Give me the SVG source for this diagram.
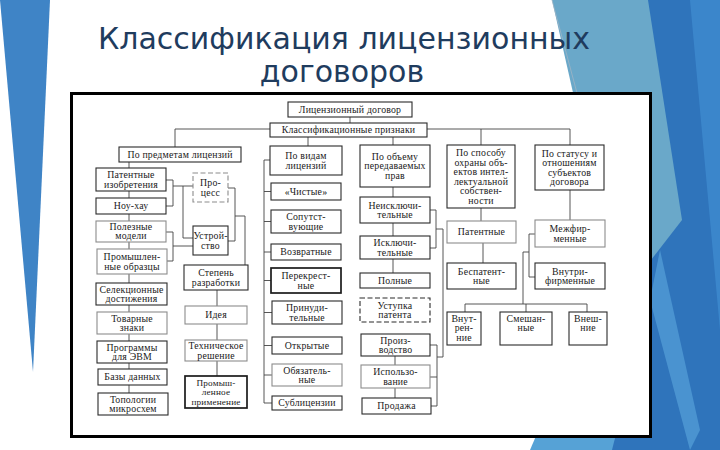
<svg xmlns="http://www.w3.org/2000/svg" width="720" height="450" viewBox="0 0 720 450">
<style>
.bx{fill:#fff;stroke:#2a2a2a;stroke-width:1.1}
.bk{stroke-width:1.7;stroke:#1a1a1a}
.lt{stroke:#8c8c8c}
.ds{stroke-dasharray:5 2.5}
.t{font-family:"Liberation Serif","DejaVu Serif","Times New Roman",serif;font-size:9.8px;letter-spacing:0.2px;fill:#1a1a1a;text-anchor:middle}
.s{font-size:9.2px}
.cn{fill:none;stroke:#444;stroke-width:0.9}
.ttl{font-family:"DejaVu Sans","Noto Sans",sans-serif;font-size:30px;fill:#1f3c5e;text-anchor:middle}
</style>
<rect width="720" height="450" fill="#fff"/>
<g id="decor">
<polygon points="0,0 50,0 33,372" fill="#3f84c6"/>
<polygon points="645,0 720,0 720,450 605,450" fill="#2f74bb"/>
<polygon points="690,0 720,0 720,330" fill="#3b86cb"/>
<polygon points="552,0 648,0 682,220 620,300" fill="#6aa8c9"/>
<polygon points="560,380 650,300 612,450 530,450" fill="#56a2d6"/>
<polygon points="660,250 700,430 690,450 650,300" fill="#4a93d0"/>
<line x1="552" y1="0" x2="577" y2="93" stroke="#9fb4c4" stroke-width="0.8"/>
</g>
<text class="ttl" x="344" y="49">Классификация лицензионных</text>
<text class="ttl" x="342" y="82">договоров</text>
<rect x="71.5" y="93.5" width="579" height="343" fill="#fff" stroke="#000" stroke-width="3"/>
<g id="connectors" class="cn">
<path d="M350,117V123"/>
<path d="M270,129H175V147"/>
<path d="M427,129H570V145"/>
<path d="M481,129V145"/>
<path d="M393,137V145"/>
<path d="M308,137V146"/>
<path d="M129,162V168M129,191V198M129,214V221M129,242V249M129,274V283M129,305V312M129,334V341M129,363V369M129,385V393"/>
<path d="M166,180H173M166,206H173M173,180V206M173,186H193M183,186V238H193"/>
<path d="M166,232H173M167,261H173M173,232V261M173,246H193"/>
<path d="M228,188H235M228,241H235M235,188V241M235,216H245V265"/>
<path d="M217,290V306M217,324V340M217,361V376"/>
<path d="M270,160H264V403H272M264,191.5H271M264,221.5H271M264,252H271M264,280.5H271M264,312.5H272M264,345.5H272M264,375H272"/>
<path d="M393,187V197M393,223V236M393,259V273M395,356V365M395,388V398"/>
<path d="M430,210H436M430,248H436M436,210V248M436,229H443V357H437M430,345H437M430,377H437M431,406H437M437,345V406"/>
<path d="M481,208V221M483,243V263"/>
<path d="M570,190V220"/>
<path d="M535,234H529V277H535M529,252H523V304M465,304H587M465,304V312M526,304V312M587,304V312"/>
</g>
<g id="n-root"><rect class="bx" x="288" y="102" width="124" height="15"/><text class="t" x="350" y="112.8" letter-spacing="0.6">Лицензионный договор</text></g>
<g id="n-class"><rect class="bx" x="270" y="123" width="157" height="14"/><text class="t" x="348.5" y="133.3" letter-spacing="0.5">Классификационные  признаки</text></g>
<g id="n-predmet"><rect class="bx" x="119" y="147" width="122" height="15"/><text class="t" x="180" y="157.8" letter-spacing="0.5">По предметам лицензий</text></g>
<g id="n-vidam"><rect class="bx" x="270" y="146" width="72" height="29"/><text class="t" x="306" y="159">По видам</text><text class="t" x="306" y="168.5">лицензий</text></g>
<g id="n-obem"><rect class="bx" x="360" y="145" width="70" height="42"/><text class="t" x="395" y="159.8">По объему</text><text class="t" x="395" y="169.3">передаваемых</text><text class="t" x="395" y="178.8">прав</text></g>
<g id="n-sposob"><rect class="bx" x="447" y="145" width="68" height="63"/><text class="t" x="481" y="156">По способу</text><text class="t" x="481" y="165.5">охраны объ-</text><text class="t" x="481" y="175">ектов интел-</text><text class="t" x="481" y="184.5">лектуальной</text><text class="t" x="481" y="194">собствен-</text><text class="t" x="481" y="203.5">ности</text></g>
<g id="n-status"><rect class="bx" x="535" y="145" width="69" height="45"/><text class="t" x="569.5" y="156.5">По статусу и</text><text class="t" x="569.5" y="166">отношениям</text><text class="t" x="569.5" y="175.5">субъектов</text><text class="t" x="569.5" y="185">договора</text></g>
<g id="n-izobr"><rect class="bx" x="96" y="168" width="70" height="23"/><text class="t" x="131" y="178">Патентные</text><text class="t" x="131" y="187.5">изобретения</text></g>
<g id="n-nouhau"><rect class="bx" x="96" y="198" width="70" height="16"/><text class="t" x="131" y="209.3">Ноу-хау</text></g>
<g id="n-polez"><rect class="bx lt" x="96" y="221" width="70" height="21"/><text class="t" x="131" y="229.5">Полезные</text><text class="t" x="131" y="239.3">модели</text></g>
<g id="n-prom"><rect class="bx lt" x="97" y="249" width="70" height="25"/><text class="t" x="132" y="260">Промышлен-</text><text class="t" x="132" y="269.5">ные образцы</text></g>
<g id="n-selek"><rect class="bx" x="96" y="283" width="71" height="22"/><text class="t" x="131.5" y="292.5">Селекционные</text><text class="t" x="131.5" y="302">достижения</text></g>
<g id="n-tovar"><rect class="bx lt" x="97" y="312" width="70" height="22"/><text class="t" x="132" y="321.5">Товарные</text><text class="t" x="132" y="331">знаки</text></g>
<g id="n-progr"><rect class="bx" x="97" y="341" width="70" height="22"/><text class="t" x="132" y="350.5">Программы</text><text class="t" x="132" y="360">для ЭВМ</text></g>
<g id="n-bazy"><rect class="bx" x="98" y="369" width="69" height="16"/><text class="t" x="132.5" y="380.3">Базы данных</text></g>
<g id="n-topol"><rect class="bx" x="98" y="393" width="70" height="22"/><text class="t" x="133" y="402.5">Топологии</text><text class="t" x="133" y="412">микросхем</text></g>
<g id="n-process"><rect class="bx lt ds" x="193" y="173" width="35" height="29"/><text class="t" x="210.5" y="186">Про-</text><text class="t" x="210.5" y="195.5">цесс</text></g>
<g id="n-ustr"><rect class="bx" x="193" y="226" width="35" height="29"/><text class="t" x="210.5" y="239" letter-spacing="0">Устрой-</text><text class="t" x="210.5" y="248.5">ство</text></g>
<g id="n-stepen"><rect class="bx" x="184" y="265" width="64" height="25"/><text class="t" x="216" y="276">Степень</text><text class="t" x="216" y="285.5">разработки</text></g>
<g id="n-ideya"><rect class="bx lt" x="185" y="306" width="62" height="18"/><text class="t" x="216" y="318.3">Идея</text></g>
<g id="n-tehn"><rect class="bx lt" x="185" y="340" width="62" height="21"/><text class="t" x="216" y="349">Техническое</text><text class="t" x="216" y="358.5">решение</text></g>
<g id="n-primen"><rect class="bx bk" x="185" y="376" width="62" height="32"/><text class="t s" x="216" y="385.8">Промыш-</text><text class="t s" x="216" y="395.4">ленное</text><text class="t s" x="216" y="405">применение</text></g>
<g id="n-chist"><rect class="bx" x="271" y="183" width="70" height="17"/><text class="t" x="306" y="194.8">«Чистые»</text></g>
<g id="n-soput"><rect class="bx" x="271" y="210" width="70" height="23"/><text class="t" x="306" y="220">Сопутст-</text><text class="t" x="306" y="229.5">вующие</text></g>
<g id="n-vozvr"><rect class="bx" x="271" y="244" width="70" height="16"/><text class="t" x="306" y="255.3">Возвратные</text></g>
<g id="n-perekr"><rect class="bx bk" x="271" y="268" width="70" height="25"/><text class="t" x="306" y="279">Перекрест-</text><text class="t" x="306" y="288.5">ные</text></g>
<g id="n-prinud"><rect class="bx" x="272" y="301" width="70" height="23"/><text class="t" x="307" y="311">Принуди-</text><text class="t" x="307" y="320.5">тельные</text></g>
<g id="n-otkr"><rect class="bx" x="272" y="337" width="70" height="17"/><text class="t" x="307" y="348.8">Открытые</text></g>
<g id="n-obyaz"><rect class="bx lt" x="272" y="364" width="70" height="22"/><text class="t" x="307" y="373.5">Обязатель-</text><text class="t" x="307" y="383">ные</text></g>
<g id="n-sublic"><rect class="bx" x="272" y="396" width="70" height="14"/><text class="t" x="307" y="406.3">Сублицензии</text></g>
<g id="n-neiskl"><rect class="bx" x="360" y="197" width="70" height="26"/><text class="t" x="395" y="208.5">Неисключи-</text><text class="t" x="395" y="218">тельные</text></g>
<g id="n-iskl"><rect class="bx" x="360" y="236" width="70" height="23"/><text class="t" x="395" y="246">Исключи-</text><text class="t" x="395" y="255.5">тельные</text></g>
<g id="n-polnye"><rect class="bx" x="360" y="273" width="70" height="15"/><text class="t" x="395" y="283.8">Полные</text></g>
<g id="n-ustupka"><rect class="bx ds" x="360" y="298" width="70" height="24"/><text class="t" x="395" y="308.5">Уступка</text><text class="t" x="395" y="318">патента</text></g>
<g id="n-proizv"><rect class="bx" x="361" y="334" width="69" height="22"/><text class="t" x="395.5" y="343.5">Произ-</text><text class="t" x="395.5" y="353">водство</text></g>
<g id="n-ispolz"><rect class="bx lt" x="361" y="365" width="69" height="23"/><text class="t" x="395.5" y="375">Использо-</text><text class="t" x="395.5" y="384.5">вание</text></g>
<g id="n-prodazha"><rect class="bx" x="362" y="398" width="69" height="16"/><text class="t" x="396.5" y="409.3">Продажа</text></g>
<g id="n-patent"><rect class="bx lt" x="447" y="221" width="69" height="22"/><text class="t" x="481.5" y="235.3">Патентные</text></g>
<g id="n-bespatent"><rect class="bx" x="447" y="263" width="69" height="26"/><text class="t" x="481.5" y="274.5">Беспатент-</text><text class="t" x="481.5" y="284">ные</text></g>
<g id="n-mezhfirm"><rect class="bx lt" x="535" y="220" width="70" height="27"/><text class="t" x="570" y="232">Межфир-</text><text class="t" x="570" y="241.5">менные</text></g>
<g id="n-vnutrifirm"><rect class="bx" x="535" y="263" width="70" height="26"/><text class="t" x="570" y="274.5">Внутри-</text><text class="t" x="570" y="284">фирменные</text></g>
<g id="n-vnutr"><rect class="bx" x="447" y="312" width="34" height="33"/><text class="t" x="464" y="321.5">Внут-</text><text class="t" x="464" y="331">рен-</text><text class="t" x="464" y="340.5">ние</text></g>
<g id="n-smesh"><rect class="bx" x="500" y="312" width="52" height="33"/><text class="t" x="526" y="321.5">Смешан-</text><text class="t" x="526" y="331">ные</text></g>
<g id="n-vnesh"><rect class="bx" x="569" y="312" width="38" height="33"/><text class="t" x="588" y="321.5">Внеш-</text><text class="t" x="588" y="331">ние</text></g>
</svg>
